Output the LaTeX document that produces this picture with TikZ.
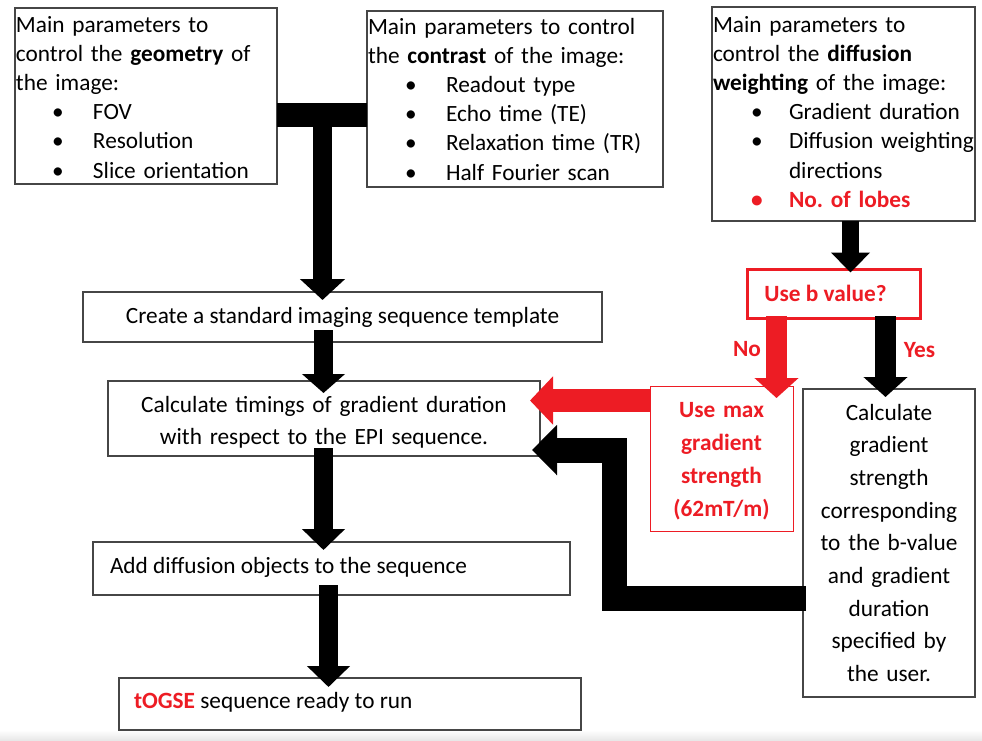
\documentclass[tikz,border=0pt]{standalone}
\usepackage{fontspec}
\setmainfont{Carlito}
\usetikzlibrary{arrows.meta}
\definecolor{flowred}{RGB}{237,28,36}
\definecolor{frame}{RGB}{70,70,70}
% bullet line: #1 bullet centre offset, #2 text offset, #3 item text
\newcommand{\bitem}[3]{\makebox[#2][l]{\hspace*{#1}\makebox[0pt][c]{\textbullet}}#3}
\begin{document}
\begin{tikzpicture}[x=1pt,y=-1pt,
  box/.style={draw=frame, line width=1.1pt, fill=white, inner sep=0pt, outer sep=0pt, anchor=north west},
  redbox/.style={box, draw=flowred},
  txt/.style={inner sep=0pt, outer sep=0pt, anchor=base west, font=\fontsize{23.3pt}{29.2pt}\selectfont},
  ctxt/.style={txt, anchor=base, align=center},
  lbl/.style={txt, anchor=base, text=flowred, font=\fontsize{23.3pt}{29.2pt}\selectfont\bfseries},
  flow/.style={line cap=butt, line join=miter},
]
\useasboundingbox (0,0) rectangle (982,740);
\shade[top color=white, bottom color=black!9] (0,730) rectangle (982,740);

% ---- boxes ----
\node[box, minimum width=262pt, minimum height=176pt] (geo) at (15,8) {};
\node[box, minimum width=296pt, minimum height=176pt] (con) at (367,11) {};
\node[box, minimum width=263pt, minimum height=214pt] (dif) at (712,7) {};
\node[box, minimum width=519pt, minimum height=50pt] (create) at (83,292) {};
\node[box, minimum width=432pt, minimum height=75pt] (calc) at (108,381) {};
\node[box, minimum width=477pt, minimum height=53pt] (add) at (93,542) {};
\node[box, minimum width=462pt, minimum height=52pt] (tog) at (119,678) {};
\node[redbox, line width=3.5pt, minimum width=173pt, minimum height=49pt] (useb) at (747.5,269.5) {};
\node[redbox, line width=1pt, minimum width=143pt, minimum height=145pt] (usemax) at (650,386) {};
\node[box, minimum width=172pt, minimum height=308pt] (calcg) at (803,389) {};

% ---- texts ----
\node[txt, text width=258pt, align=left] (geoT) at (16,32)
  {Main parameters to\\control the \textbf{geometry} of\\the image:\\
   \bitem{42pt}{77pt}{FOV}\\\bitem{42pt}{77pt}{Resolution}\\\bitem{42pt}{77pt}{Slice orientation}};
\node[txt, text width=294pt, align=left] (conT) at (368,34)
  {Main parameters to control\\the \textbf{contrast} of the image:\\
   \bitem{43pt}{78pt}{Readout type}\\\bitem{43pt}{78pt}{Echo time (TE)}\\
   \bitem{43pt}{78pt}{Relaxation time (TR)}\\\bitem{43pt}{78pt}{Half Fourier scan}};
\node[txt, text width=262pt, align=left] (difT) at (713,32)
  {Main parameters to\\control the \textbf{diffusion}\\\textbf{weighting} of the image:\\
   \bitem{44pt}{76pt}{Gradient duration}\\\bitem{44pt}{76pt}{Diffusion weighting}\\
   \hspace*{76pt}directions\\{\color{flowred}\bfseries\bitem{44pt}{76pt}{No.\ of lobes}}};
\node[txt, anchor=base] (createT) at (342.5,323) {Create a standard imaging sequence template};
\node[ctxt, text width=430pt, font=\fontsize{23.3pt}{32pt}\selectfont] (calcT) at (324,412)
  {Calculate timings of gradient duration\\with respect to the EPI sequence.};
\node[txt] (addT) at (110,573) {Add diffusion objects to the sequence};
\node[txt] (togT) at (134,708) {{\color{flowred}\bfseries tOGSE} sequence ready to run};
\node[lbl] (usebT) at (825.5,301) {Use b value?};
\node[lbl, text width=140pt, align=center, font=\fontsize{23.3pt}{33pt}\selectfont\bfseries] (usemaxT) at (721.5,417)
  {Use max\\gradient\\strength\\(62mT/m)};
\node[ctxt, text width=170pt, font=\fontsize{23.3pt}{32.7pt}\selectfont] (calcgT) at (889,420)
  {Calculate\\gradient\\strength\\corresponding\\to the b-value\\and gradient\\duration\\specified by\\the user.};
\node[lbl] (noL) at (747,356) {No};
\node[lbl] (yesL) at (919.5,357) {Yes};

% ---- connectors ----
\coordinate (tj) at (322.5,115);
\coordinate (colA) at (323.5,0);
\coordinate (colB) at (328.5,0);
\coordinate (colD) at (850.5,0);
\coordinate (colN) at (776.5,0);
\coordinate (colY) at (885.5,0);
\coordinate (rowR) at (0,400.5);
\coordinate (rowE) at (0,598.5);
\coordinate (elb) at (614.5,450);

\draw[flow, line width=24pt] (geo.east |- tj) -- (con.west |- tj);
\draw[flow, line width=19pt, -{Triangle[width=44pt,length=21pt]}]
  (tj) -- ([yshift=-8pt]create.north -| tj);
\draw[flow, line width=19pt, -{Triangle[width=42pt,length=19pt]}]
  ([yshift=12pt]create.south -| colA) -- ([yshift=-12pt]calc.north -| colA);
\draw[flow, line width=19pt, -{Triangle[width=42pt,length=21pt]}]
  ([yshift=8pt]calc.south -| colA) -- ([yshift=-8pt]add.north -| colA);
\draw[flow, line width=19pt, -{Triangle[width=42pt,length=21pt]}]
  ([yshift=10pt]add.south -| colB) -- ([yshift=-9pt]tog.north -| colB);
\draw[flow, line width=17pt, -{Triangle[width=38pt,length=20pt]}]
  (dif.south -| colD) -- ([yshift=-3pt]useb.north -| colD);
\draw[flow, flowred, line width=21pt, -{Triangle[width=43pt,length=20pt]}]
  ([yshift=2.5pt]useb.south -| colN) -- ([yshift=-12pt]usemax.north -| colN);
\draw[flow, line width=21pt, -{Triangle[width=43pt,length=20pt]}]
  ([yshift=2.5pt]useb.south -| colY) -- ([yshift=-8pt]calcg.north -| colY);
\draw[flow, flowred, line width=23pt, -{Triangle[width=47pt,length=23pt]}]
  (usemax.west |- rowR) -- ([xshift=-10pt]calc.east |- rowR);
\draw[flow, line width=25pt, -{Triangle[width=49pt,length=25pt]}]
  ([xshift=3pt]calcg.west |- rowE) -| (elb) -- ([xshift=-8pt]calc.east |- elb);
\end{tikzpicture}
\end{document}
